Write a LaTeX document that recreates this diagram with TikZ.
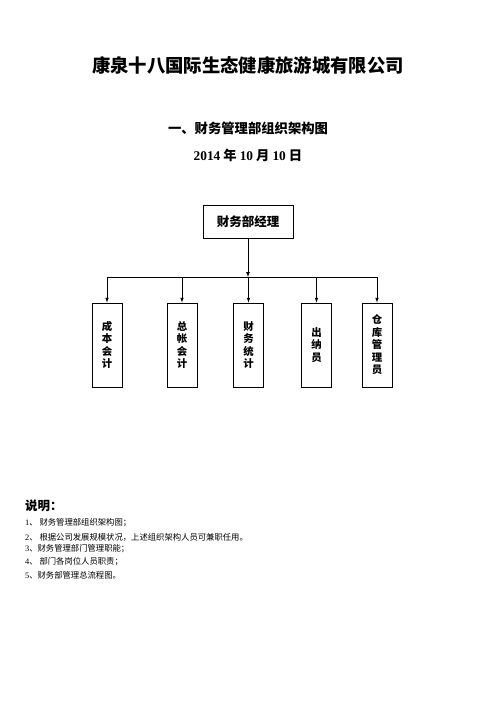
\documentclass[tikz,border=0pt]{standalone}
\usepackage{fontspec}
\setmainfont{Liberation Serif}
\newfontfamily\cjk{Noto Sans CJK SC}
\usepackage{tikz}
\usetikzlibrary{positioning}

\begin{document}
\begin{tikzpicture}[x=1.2pt, y=-1.2pt, font=\cjk,
    box/.style={draw, line width=1pt, minimum width=36pt, minimum height=100.8pt,
      inner sep=0pt, align=center, font=\cjk\bfseries\fontsize{12.5}{15}\selectfont}]
        \useasboundingbox (0,0) rectangle (496,702);
        % headings
        \node (title) at (248,65) {\bfseries\fontsize{22}{22}\selectfont 康泉十八国际生态健康旅游城有限公司};
        \node (sub) at (248,128) {\bfseries\fontsize{16}{16}\selectfont 一、财务管理部组织架构图};
        \node (date) at (248,155) {\bfseries\fontsize{16}{16}\selectfont
          \textrm{2014} 年 \textrm{10} 月 \textrm{10} 日};
        % chart
        \node[draw, line width=1pt, minimum width=108pt, minimum height=39.6pt,
          font=\cjk\bfseries\fontsize{15}{15}\selectfont] (mgr) at (248,221.5) {财务部经理};
        \coordinate (bus) at (248,277);
        \node[box] (cbkj) at (107,345) {成\\本\\会\\计};
        \node[box] (zzkj) at (182,345) {总\\帐\\会\\计};
        \node[box] (cwtj) at (248.5,345) {财\\务\\统\\计};
        \node[box] (cny) at (316.5,345) {出\\纳\\员};
        \node[box] (ckgl) at (377,345) {仓\\库\\管\\理\\员};
        \draw[-latex, line width=1pt] (mgr) -- (bus);
        \draw[line width=1pt] (cbkj |- bus) -- (ckgl |- bus);
        \foreach \n in {cbkj,zzkj,cwtj,cny,ckgl} {
          \draw[-latex, line width=1pt] (\n |- bus) -- (\n);}
        % notes
        \node[anchor=west, inner sep=0pt] (note) at (25,506) {\bfseries\fontsize{15}{15}\selectfont 说明：};
        \foreach \y/\t in {523/{\textrm{1}、 财务管理部组织架构图；},
            537/{\textrm{2}、 根据公司发展规模状况，上述组织架构人员可兼职任用。},
            549/{\textrm{3}、财务管理部门管理职能；},
            562/{\textrm{4}、 部门各岗位人员职责；},
            575/{\textrm{5}、财务部管理总流程图。}} {
          \node[anchor=west, inner sep=0pt, font=\cjk\fontsize{10}{10}\selectfont] at (25,\y) {\t};}
      \end{tikzpicture}
\end{document}
